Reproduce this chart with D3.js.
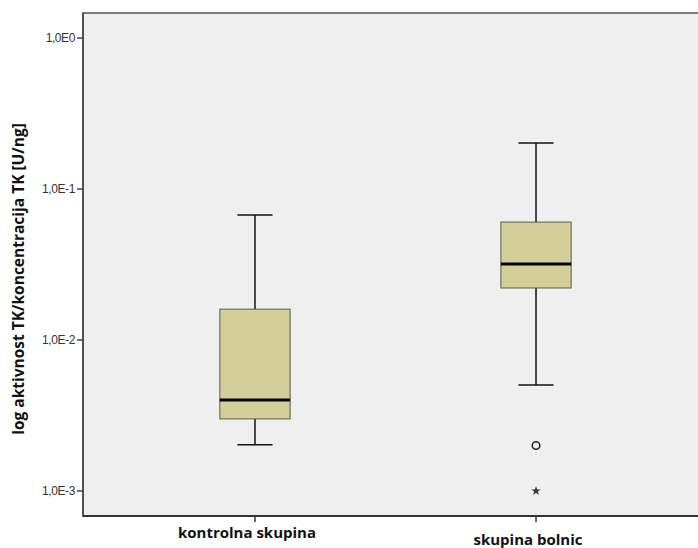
<!DOCTYPE html>
<meta charset="utf-8">
<head>
</head>
<body style="margin:0;background:#fff">
<style>
text { font-family: "Open Sans", "DejaVu Sans", sans-serif; }
.tick-label { font-family: "Liberation Sans", Arial, sans-serif; font-size: 12px; fill: #333; }
.cat-label { font-size: 15px; font-weight: bold; fill: #111; }
.ytitle { font-size: 15.5px; font-weight: bold; fill: #111; }
</style>
<svg width="698" height="548"></svg>
<script src="https://d3js.org/d3.v7.min.js"></script>
<script>
// groups and five-number summaries
var categories = ["kontrolna skupina", "skupina bolnic"];
var whiskerLow  = [0.00202, 0.00504];
var q1          = [0.0030, 0.0221];
var median      = [0.00401, 0.0319];
var q3          = [0.0160, 0.0604];
var whiskerHigh = [0.0673, 0.2017];
// outliers: [group index, value]
var outliers = [[1, 0.002]];
var extremes = [[1, 0.001]];
var yTicks = [1e-3, 1e-2, 1e-1, 1];
var yTickLabels = ["1,0E-3", "1,0E-2", "1,0E-1", "1,0E0"];
var yTitle = "log aktivnost TK/koncentracija TK [U/ng]";

var svg = d3.select("svg");
var plotL = 83, plotT = 13, plotB = 516, plotR = 708;

var y = d3.scaleLog()
  .domain([Math.pow(10, -3.166), Math.pow(10, 0.166)])
  .range([plotB, plotT]);
var x = d3.scalePoint()
  .domain(categories)
  .range([plotL, plotR])
  .padding(0.612);
var boxW = x.step() * 0.25;
var capW = boxW * 0.5;

// plot background + frame
svg.append("rect")
  .attr("x", plotL).attr("y", plotT)
  .attr("width", plotR - plotL).attr("height", plotB - plotT)
  .attr("fill", "#efefef")
  .attr("stroke", "#7a7a7a").attr("stroke-width", 2);
svg.append("line")
  .attr("x1", plotL).attr("x2", plotL).attr("y1", plotT).attr("y2", plotB)
  .attr("stroke", "#444").attr("stroke-width", 1.5);
svg.append("line")
  .attr("x1", plotL).attr("x2", plotR).attr("y1", plotB).attr("y2", plotB)
  .attr("stroke", "#333").attr("stroke-width", 2);

// y ticks
var yt = svg.append("g").selectAll("g")
  .data(yTicks)
  .enter().append("g");
yt.append("line")
  .attr("x1", plotL - 6).attr("x2", plotL)
  .attr("y1", function(d) { return y(d); })
  .attr("y2", function(d) { return y(d); })
  .attr("stroke", "#444").attr("stroke-width", 1.5);
yt.append("text")
  .attr("class", "tick-label")
  .attr("x", plotL - 8)
  .attr("y", function(d) { return y(d); })
  .attr("dy", "0.35em")
  .attr("text-anchor", "end")
  .attr("letter-spacing", "-0.4")
  .text(function(d, i) { return yTickLabels[i]; });

svg.append("text")
  .attr("class", "ytitle")
  .attr("transform", "translate(24,279) rotate(-90)")
  .attr("text-anchor", "middle")
  .text(yTitle);

// x ticks + staggered labels
categories.forEach(function(c, i) {
  svg.append("line")
    .attr("x1", x(c)).attr("x2", x(c))
    .attr("y1", plotB).attr("y2", plotB + 6)
    .attr("stroke", "#333").attr("stroke-width", 1.5);
  svg.append("text")
    .attr("class", "cat-label")
    .attr("x", x(c) - 8)
    .attr("y", i % 2 === 0 ? 538 : 545)
    .attr("text-anchor", "middle")
    .text(c);
});

// boxes
var g = svg.append("g").selectAll("g")
  .data(categories)
  .enter().append("g");

g.append("line")
  .attr("x1", function(d) { return x(d); })
  .attr("x2", function(d) { return x(d); })
  .attr("y1", function(d, i) { return y(whiskerHigh[i]); })
  .attr("y2", function(d, i) { return y(q3[i]); })
  .attr("stroke", "#111").attr("stroke-width", 1.5);
g.append("line")
  .attr("x1", function(d) { return x(d); })
  .attr("x2", function(d) { return x(d); })
  .attr("y1", function(d, i) { return y(q1[i]); })
  .attr("y2", function(d, i) { return y(whiskerLow[i]); })
  .attr("stroke", "#111").attr("stroke-width", 1.5);
g.append("line")
  .attr("x1", function(d) { return x(d) - capW / 2; })
  .attr("x2", function(d) { return x(d) + capW / 2; })
  .attr("y1", function(d, i) { return y(whiskerHigh[i]); })
  .attr("y2", function(d, i) { return y(whiskerHigh[i]); })
  .attr("stroke", "#111").attr("stroke-width", 1.5);
g.append("line")
  .attr("x1", function(d) { return x(d) - capW / 2; })
  .attr("x2", function(d) { return x(d) + capW / 2; })
  .attr("y1", function(d, i) { return y(whiskerLow[i]); })
  .attr("y2", function(d, i) { return y(whiskerLow[i]); })
  .attr("stroke", "#111").attr("stroke-width", 1.5);
g.append("rect")
  .attr("x", function(d) { return x(d) - boxW / 2; })
  .attr("width", boxW)
  .attr("y", function(d, i) { return y(q3[i]); })
  .attr("height", function(d, i) { return y(q1[i]) - y(q3[i]); })
  .attr("fill", "#d3cf9a")
  .attr("stroke", "#5a5a4a").attr("stroke-width", 1);
g.append("line")
  .attr("x1", function(d) { return x(d) - boxW / 2; })
  .attr("x2", function(d) { return x(d) + boxW / 2; })
  .attr("y1", function(d, i) { return y(median[i]); })
  .attr("y2", function(d, i) { return y(median[i]); })
  .attr("stroke", "#000").attr("stroke-width", 3);

// outliers
svg.append("g").selectAll("circle")
  .data(outliers)
  .enter().append("circle")
  .attr("cx", function(d) { return x(categories[d[0]]); })
  .attr("cy", function(d) { return y(d[1]); })
  .attr("r", 3.8)
  .attr("fill", "none")
  .attr("stroke", "#222").attr("stroke-width", 1.5);
svg.append("g").selectAll("path")
  .data(extremes)
  .enter().append("path")
  .attr("d", d3.symbol().type(d3.symbolStar).size(28))
  .attr("transform", function(d) { return "translate(" + x(categories[d[0]]) + "," + y(d[1]) + ")"; })
  .attr("fill", "#333");
</script>
</body>
